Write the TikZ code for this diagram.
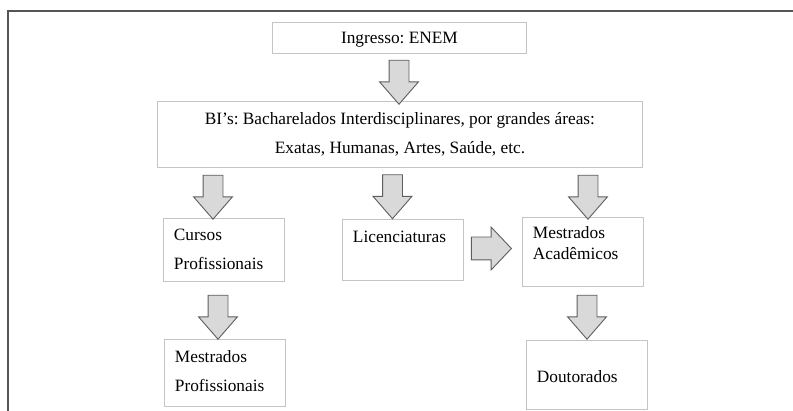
\documentclass[tikz,border=0pt]{standalone}
\usepackage{fontspec}
\setmainfont{Liberation Serif}
\usetikzlibrary{shapes.arrows, positioning}
\definecolor{framegray}{HTML}{555555}
\definecolor{boxgray}{HTML}{C4C4C4}
\definecolor{arrowgray}{HTML}{5E5E5E}
\definecolor{arrowfill}{HTML}{D9D9D9}
\tikzstyle{box} = [rectangle, draw=boxgray, line width=0.9pt, inner xsep=10.5pt, inner ysep=0pt, text height=12pt, anchor=north west, font=\fontsize{17.3}{29.5}\selectfont\frenchspacing]
\tikzstyle{sbox} = [box, minimum width=121pt, text width=100pt, align=left]
\tikzstyle{barrow} = [single arrow, draw=arrowgray, fill=arrowfill, line width=0.9pt, inner xsep=0pt, inner ysep=9.5pt, minimum height=44pt, minimum width=38pt, single arrow head extend=9.5pt, single arrow tip angle=82]
\tikzstyle{darrow} = [barrow, rotate=-90]

\begin{document}
\begin{tikzpicture}[x=1pt, y=-1pt]
			\useasboundingbox (0,0) rectangle (793,411);
			\draw [framegray, line width=1.5pt] (8,411) -- (8,11) -- (793,11);

			\node [box, minimum width=254pt, minimum height=31pt, text depth=0pt] (ing) at (272,22) {Ingresso: ENEM};
			\node [box, minimum width=485pt, minimum height=66pt, text width=464pt, text depth=32pt, align=flush center] (bi) at (157,101) {BI’s: Bacharelados Interdisciplinares, por grandes áreas:\\ Exatas, Humanas, Artes, Saúde, etc.};
			\node [sbox, minimum height=63pt, text depth=31pt] (cur) at (163,218) {Cursos\\ Profissionais};
			\node [sbox, minimum height=61pt, text depth=27.6pt] (lic) at (342,219) {Licenciaturas};
			\node [sbox, minimum height=69pt, text depth=38.4pt, font=\fontsize{17.3}{20.7}\selectfont] (mac) at (522,217) {Mestrados\\ Acadêmicos};
			\node [sbox, minimum height=67pt, text depth=33.6pt] (mpr) at (164,339) {Mestrados\\ Profissionais};
			\node [sbox, minimum height=69pt, text height=15.6pt, text depth=0pt] (dou) at (526,340) {Doutorados};

			\node [darrow] (a1) at (399,76.5) {};
			\node [darrow] (a2) at (213,191.5) {};
			\node [darrow] (a3) at (392.5,191) {};
			\node [darrow] (a4) at (588,191.5) {};
			\node [darrow] (a5) at (218,311.5) {};
			\node [darrow] (a6) at (587,311.5) {};
			\node [barrow, inner ysep=11pt, minimum height=40pt, minimum width=42pt, single arrow head extend=10pt, single arrow tip angle=93] (a7) at (486,248.5) {};
		\end{tikzpicture}
\end{document}
